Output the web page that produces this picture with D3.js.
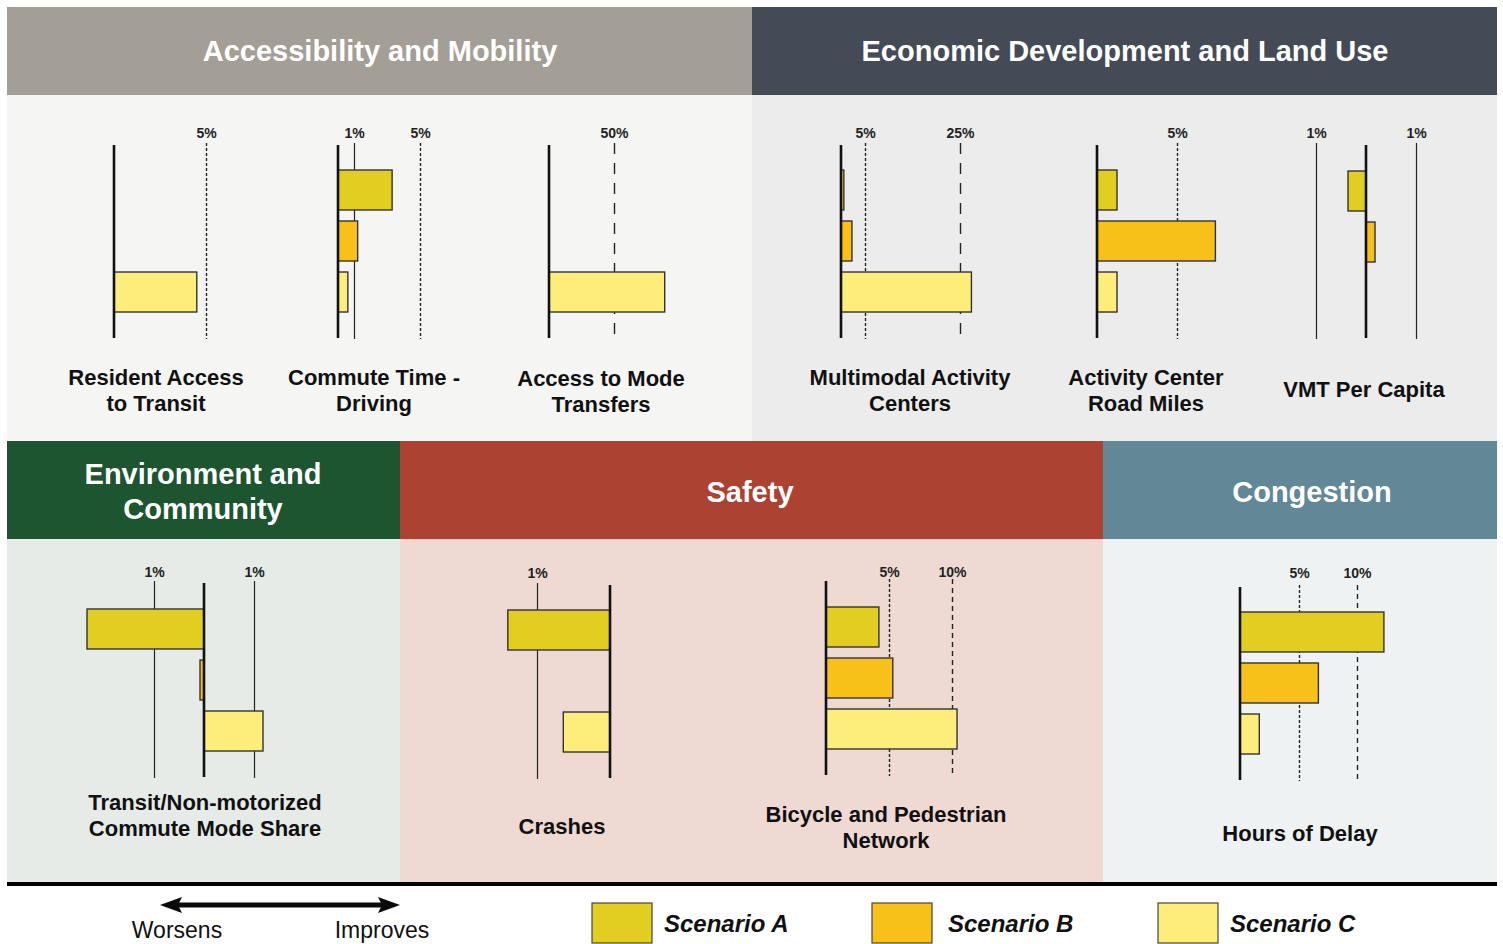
<!DOCTYPE html>
<html>
<head>
<meta charset="utf-8">
<script src="https://cdn.jsdelivr.net/npm/d3@7"></script>
<style>
  body { margin: 0; background: #fff; }
  svg { display: block; font-family: "Liberation Sans", Arial, Helvetica, sans-serif; }
</style>
</head>
<body>
<div id="chart"></div>
<script>
var svgWidth = 1503;
var svgHeight = 944;

// ---- data ----
var scenarios = ["A", "B", "C"];
var scenarioLabels = ["Scenario A", "Scenario B", "Scenario C"];

var metrics = [
  ["Resident Access", "to Transit"],
  ["Commute Time -", "Driving"],
  ["Access to Mode", "Transfers"],
  ["Multimodal Activity", "Centers"],
  ["Activity Center", "Road Miles"],
  ["VMT Per Capita"],
  ["Transit/Non-motorized", "Commute Mode Share"],
  ["Crashes"],
  ["Bicycle and Pedestrian", "Network"],
  ["Hours of Delay"]
];

// percent change, positive = improves, negative = worsens (null = no bar)
var scenarioA = [null, 3.3, null, 0.6, 1.25, -0.36, -2.34, -1.4, 4.2, 12.3];
var scenarioB = [null, 1.2, null, 2.3, 7.4, 0.18, -0.08, null, 5.3, 6.7];
var scenarioC = [4.5, 0.6, 89, 27.4, 1.25, null, 1.18, -0.64, 10.4, 1.65];

// reference lines per metric: value and line style
var refValues = [[5], [1, 5], [50], [5, 25], [5], [-1, 1], [-1, 1], [-1], [5, 10], [5, 10]];
var refStyles = [["dot"], ["solid", "dot"], ["long"], ["dot", "long"], ["dot"],
  ["solid", "solid"], ["solid", "solid"], ["solid"], ["dot", "dash"], ["dot", "dash"]];

var groups = [
  { name: ["Accessibility and Mobility"], members: [0, 1, 2] },
  { name: ["Economic Development and Land Use"], members: [3, 4, 5] },
  { name: ["Environment and", "Community"], members: [6] },
  { name: ["Safety"], members: [7, 8] },
  { name: ["Congestion"], members: [9] }
];

// ---- layout ----
var groupBoxes = [
  { x0: 7, x1: 752, y0: 7, yh: 95, y1: 441, head: "#a39e96", bg: "#f5f5f3", tx: 380, ty: [61] },
  { x0: 752, x1: 1497, y0: 7, yh: 95, y1: 441, head: "#454b56", bg: "#ebeceb", tx: 1125, ty: [61] },
  { x0: 7, x1: 400, y0: 441, yh: 539, y1: 882, head: "#1d5531", bg: "#e6ebe7", tx: 203, ty: [484, 519] },
  { x0: 400, x1: 1103, y0: 441, yh: 539, y1: 882, head: "#ab4232", bg: "#efd9d3", tx: 750, ty: [502] },
  { x0: 1103, x1: 1497, y0: 441, yh: 539, y1: 882, head: "#628797", bg: "#eff2f3", tx: 1312, ty: [502] }
];

// zero line x, pixel x of the largest |ref| line, bar top, axis extent, title centre
var chartLayout = [
  { zx: 114, rx: 206, barTop: 170, axTop: 145, axBot: 338, labY: 138, tx: 156, ty: 385 },
  { zx: 338, rx: 420, barTop: 170, axTop: 145, axBot: 338, labY: 138, tx: 374, ty: 385 },
  { zx: 549, rx: 614, barTop: 170, axTop: 145, axBot: 338, labY: 138, tx: 601, ty: 386 },
  { zx: 841, rx: 960, barTop: 170, axTop: 145, axBot: 338, labY: 138, tx: 910, ty: 385 },
  { zx: 1097, rx: 1177, barTop: 170, axTop: 145, axBot: 338, labY: 138, tx: 1146, ty: 385 },
  { zx: 1366, rx: 1416, barTop: 171, axTop: 145, axBot: 338, labY: 138, tx: 1364, ty: 397 },
  { zx: 204, rx: 254, barTop: 609, axTop: 583, axBot: 777, labY: 577, tx: 205, ty: 810 },
  { zx: 610, rx: 537, barTop: 610, axTop: 585, axBot: 778, labY: 578, tx: 562, ty: 834 },
  { zx: 826, rx: 952, barTop: 607, axTop: 581, axBot: 775, labY: 577, tx: 886, ty: 822 },
  { zx: 1240, rx: 1357, barTop: 612, axTop: 587, axBot: 780, labY: 578, tx: 1300, ty: 841 }
];

var colors = { A: "#e2ce21", B: "#f8c119", C: "#fded7b" };
var dashes = { solid: null, dot: "3,2", dash: "5,4", long: "11,9" };

var svg = d3.select("#chart")
  .append("svg")
  .attr("width", svgWidth)
  .attr("height", svgHeight);

// panels + headers
groupBoxes.forEach(function(b, i) {
  svg.append("rect")
    .attr("x", b.x0).attr("y", b.yh)
    .attr("width", b.x1 - b.x0).attr("height", b.y1 - b.yh)
    .attr("fill", b.bg);
  svg.append("rect")
    .attr("x", b.x0).attr("y", b.y0)
    .attr("width", b.x1 - b.x0).attr("height", b.yh - b.y0)
    .attr("fill", b.head);
  groups[i].name.forEach(function(line, j) {
    svg.append("text")
      .attr("x", b.tx)
      .attr("y", b.ty[j])
      .attr("text-anchor", "middle")
      .attr("fill", "#fff")
      .attr("font-weight", "bold")
      .attr("font-size", 29)
      .text(line);
  });
});

// bottom rule
svg.append("rect")
  .attr("x", 7).attr("y", 882)
  .attr("width", 1490).attr("height", 4)
  .attr("fill", "#000");

// charts
var seriesValues = { A: scenarioA, B: scenarioB, C: scenarioC };

metrics.forEach(function(title, i) {
  var L = chartLayout[i];
  var refs = refValues[i];
  var maxRef = d3.max(refs, function(r) { return Math.abs(r); });
  var refSign = d3.max(refs) < 0 ? -1 : 1;

  var xScale = d3.scaleLinear()
    .domain([0, refSign * maxRef])
    .range([L.zx, L.rx]);

  var yScale = d3.scaleBand()
    .domain(scenarios)
    .range([L.barTop, L.barTop + 142])
    .paddingInner(0.216)
    .paddingOuter(0);

  var g = svg.append("g");

  // reference lines
  refs.forEach(function(r, k) {
    var x = Math.round(xScale(r)) + 0.5;
    g.append("line")
      .attr("x1", x).attr("x2", x)
      .attr("y1", L.axTop - 2).attr("y2", L.axBot + 1)
      .attr("stroke", "#222")
      .attr("stroke-width", refStyles[i][k] === "solid" ? 1.2 : 1.4)
      .attr("stroke-dasharray", dashes[refStyles[i][k]]);
    g.append("text")
      .attr("x", x)
      .attr("y", L.labY)
      .attr("text-anchor", "middle")
      .attr("font-size", 14)
      .attr("font-weight", "bold")
      .attr("fill", "#222")
      .text(Math.abs(r) + "%");
  });

  // bars
  scenarios.forEach(function(s) {
    var v = seriesValues[s][i];
    if (v === null) return;
    var x0 = xScale(0), x1 = xScale(v);
    g.append("rect")
      .attr("x", Math.min(x0, x1))
      .attr("y", yScale(s))
      .attr("width", Math.abs(x1 - x0))
      .attr("height", yScale.bandwidth())
      .attr("fill", colors[s])
      .attr("stroke", "#333")
      .attr("stroke-width", 1.4);
  });

  // zero axis
  g.append("line")
    .attr("x1", L.zx).attr("x2", L.zx)
    .attr("y1", L.axTop).attr("y2", L.axBot)
    .attr("stroke", "#111")
    .attr("stroke-width", 2.6);

  // title
  title.forEach(function(line, j) {
    g.append("text")
      .attr("x", L.tx)
      .attr("y", L.ty + j * 26)
      .attr("text-anchor", "middle")
      .attr("font-size", 22)
      .attr("font-weight", "bold")
      .attr("fill", "#111")
      .text(line);
  });
});

// legend: direction arrow
var arrow = svg.append("g");
arrow.append("line")
  .attr("x1", 176).attr("x2", 384)
  .attr("y1", 905).attr("y2", 905)
  .attr("stroke", "#0a0a0a")
  .attr("stroke-width", 5);
arrow.append("path")
  .attr("d", "M160,905 L182,897 L178,905 L182,913 Z")
  .attr("fill", "#0a0a0a");
arrow.append("path")
  .attr("d", "M400,905 L378,897 L382,905 L378,913 Z")
  .attr("fill", "#0a0a0a");
[["Worsens", 177], ["Improves", 382]].forEach(function(d) {
  svg.append("text")
    .attr("x", d[1]).attr("y", 938)
    .attr("text-anchor", "middle")
    .attr("font-size", 23)
    .attr("fill", "#111")
    .text(d[0]);
});

// legend: scenarios
var legendX = d3.scalePoint()
  .domain(scenarios)
  .range([592, 1158]);

scenarios.forEach(function(s, i) {
  var lg = svg.append("g").attr("transform", "translate(" + (legendX(s) + (s === "B" ? -3 : 0)) + ",903)");
  lg.append("rect")
    .attr("x", 0).attr("y", 0)
    .attr("width", 60).attr("height", 40)
    .attr("fill", colors[s])
    .attr("stroke", "#444")
    .attr("stroke-width", 1.2);
  lg.append("text")
    .attr("x", s === "B" ? 76 : 72).attr("y", 29)
    .attr("font-size", 24)
    .attr("font-weight", "bold")
    .attr("font-style", "italic")
    .attr("fill", "#111")
    .text(scenarioLabels[i]);
});
</script>
</body>
</html>
